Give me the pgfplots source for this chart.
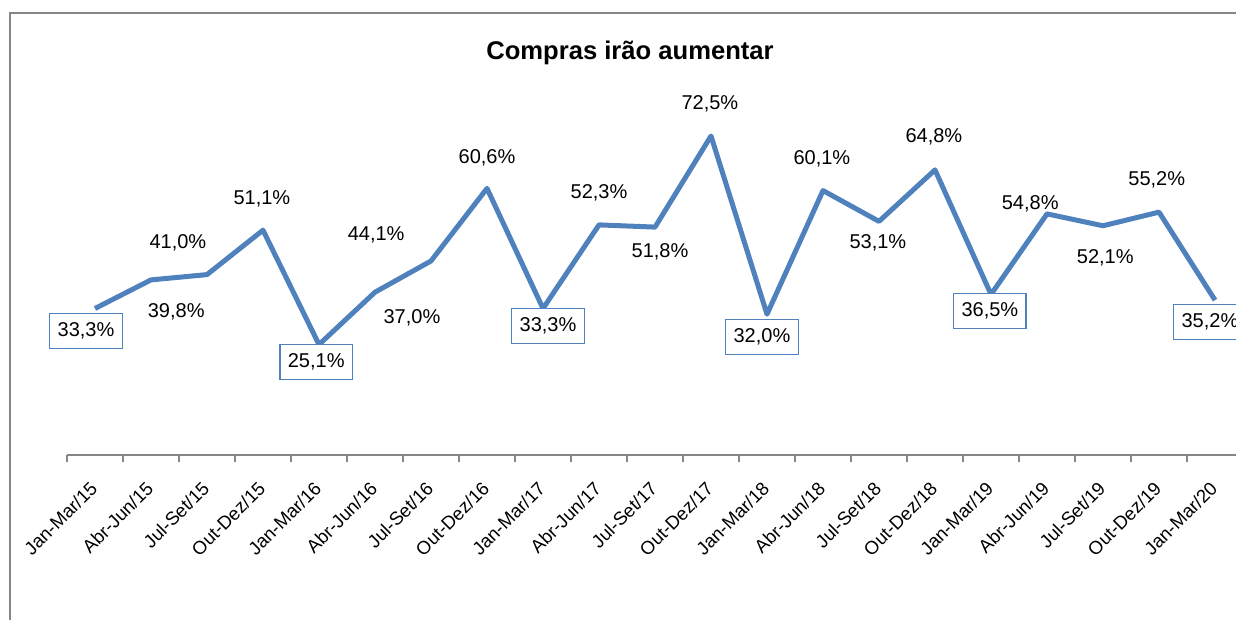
\documentclass[border=0pt]{standalone}
\usepackage{fontspec}
\setmainfont{Liberation Sans}
\usepackage{pgfplots}
\pgfplotsset{compat=1.18}
\definecolor{lineblue}{RGB}{79,129,189}
\definecolor{framegray}{RGB}{134,134,134}

\begin{document}
\begin{tikzpicture}
% page = 1236x620 px, 1 px = 0.5pt
\useasboundingbox (0,0) rectangle (618pt,-310pt);
\clip (0,0) rectangle (618pt,-310pt);
\draw[framegray, line width=1pt] (5pt,-330pt) -- (5pt,-6.5pt) -- (640pt,-6.5pt);
\node[anchor=base, font=\bfseries\fontsize{12.8}{15}\selectfont] at (315pt,-30pt) {Compras irão aumentar};
\begin{axis}[
at={(33.5pt,-227.5pt)},
anchor=south west,
scale only axis,
width=588pt,
height=176pt,
xmin=-0.5, xmax=20.5,
ymin=0, ymax=80,
clip=false,
axis x line*=bottom,
axis y line=none,
x axis line style={framegray, line width=1pt},
xtick={0,...,20},
xticklabels={Jan-Mar/15,Abr-Jun/15,Jul-Set/15,Out-Dez/15,Jan-Mar/16,Abr-Jun/16,Jul-Set/16,Out-Dez/16,Jan-Mar/17,Abr-Jun/17,Jul-Set/17,Out-Dez/17,Jan-Mar/18,Abr-Jun/18,Jul-Set/18,Out-Dez/18,Jan-Mar/19,Abr-Jun/19,Jul-Set/19,Out-Dez/19,Jan-Mar/20},
minor xtick={-0.5,0.5,...,20.5},
major tick length=0pt,
minor tick length=3.5pt,
tick align=outside,
every minor tick/.style={framegray, line width=1pt},
x tick label style={xshift=-3pt, yshift=-11pt, rotate=45, anchor=north east, font=\fontsize{9.3}{11}\selectfont, inner sep=1pt},
label style={black}
]
\addplot[lineblue, line width=2.5pt, line join=round] coordinates {
(0,33.3) (1,39.8) (2,41.0) (3,51.1) (4,25.1) (5,37.0) (6,44.1) (7,60.6)
(8,33.3) (9,52.3) (10,51.8) (11,72.5) (12,32.0) (13,60.1) (14,53.1) (15,64.8)
(16,36.5) (17,54.8) (18,52.1) (19,55.2) (20,35.2)};
\tikzset{plain/.style={font=\fontsize{10}{12}\selectfont, inner sep=0pt},
boxed/.style={plain, draw=lineblue, line width=0.75pt, fill=white, inner xsep=4pt, inner ysep=4.4pt, text height=7.2pt, text depth=1.5pt}}
\node[boxed] at (axis cs:-0.16,28.2) {33,3\%};
\node[plain] at (axis cs:1.45,32.5) {39,8\%};
\node[plain] at (axis cs:1.48,48.2) {41,0\%};
\node[plain] at (axis cs:2.98,58.2) {51,1\%};
\node[boxed] at (axis cs:3.95,21.1) {25,1\%};
\node[plain] at (axis cs:5.02,50.0) {44,1\%};
\node[plain] at (axis cs:5.66,31.1) {37,0\%};
\node[plain] at (axis cs:7.0,67.5) {60,6\%};
\node[boxed] at (axis cs:8.09,29.3) {33,3\%};
\node[plain] at (axis cs:9.0,59.5) {52,3\%};
\node[plain] at (axis cs:10.09,46.1) {51,8\%};
\node[plain] at (axis cs:10.98,79.8) {72,5\%};
\node[boxed] at (axis cs:11.91,26.8) {32,0\%};
\node[plain] at (axis cs:12.98,67.3) {60,1\%};
\node[plain] at (axis cs:13.98,48.2) {53,1\%};
\node[plain] at (axis cs:14.98,72.3) {64,8\%};
\node[boxed] at (axis cs:15.98,32.7) {36,5\%};
\node[plain] at (axis cs:16.7,57.0) {54,8\%};
\node[plain] at (axis cs:18.04,44.8) {52,1\%};
\node[plain] at (axis cs:18.96,62.5) {55,2\%};
\node[boxed] at (axis cs:19.91,30.2) {35,2\%};
\end{axis}
\end{tikzpicture}
\end{document}
